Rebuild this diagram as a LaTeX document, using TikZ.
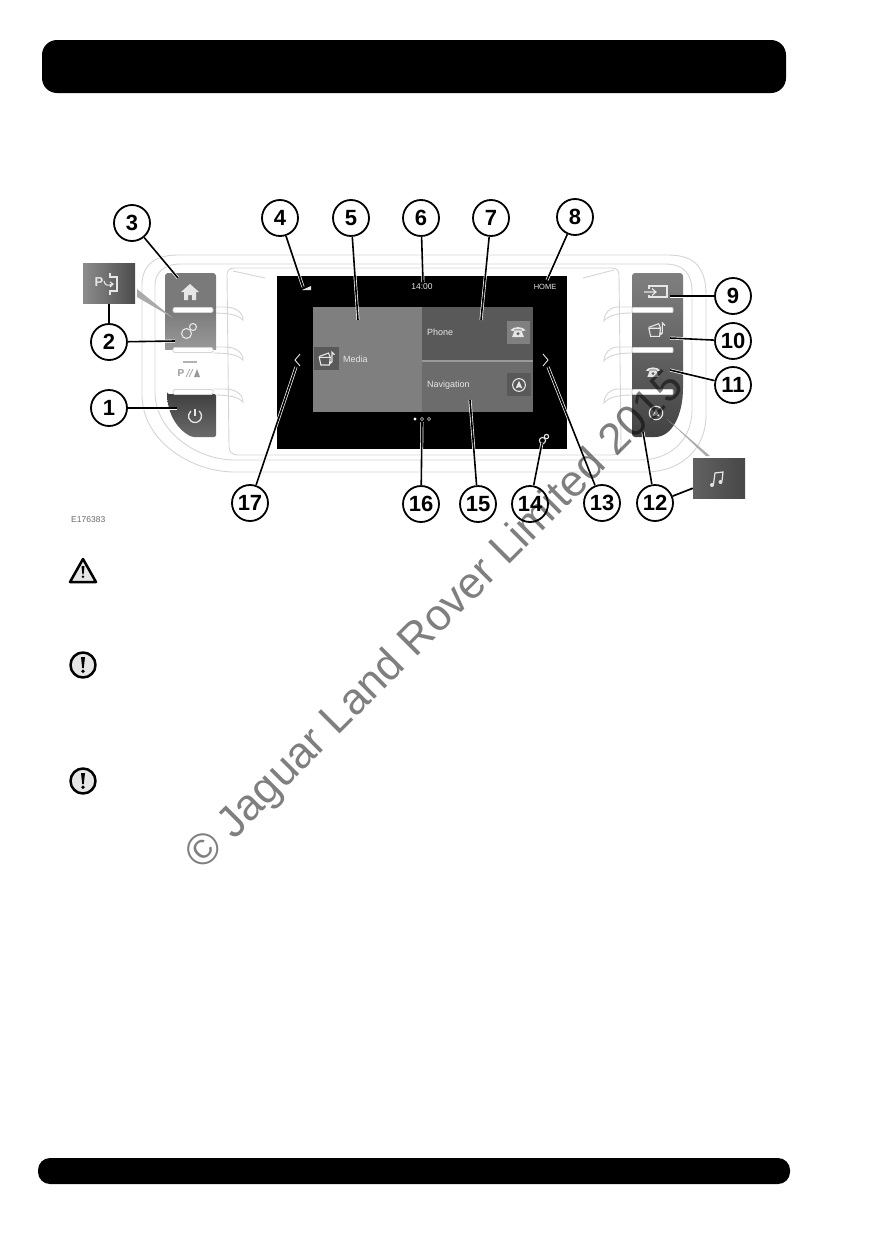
\documentclass[tikz,border=0pt]{standalone}
\usepackage{fontspec}
\usepackage{xcolor}
\usepackage{tikz}
\setmainfont{Liberation Sans}

\definecolor{trimgrey}{HTML}{D4D4D4}
\definecolor{hintgrey}{HTML}{AAAAAA}
\definecolor{tilemedia}{HTML}{7F7F7F}
\definecolor{tilephone}{HTML}{595959}
\definecolor{tilenav}{HTML}{6C6C6C}
\definecolor{iconpale}{HTML}{E6E6E6}

\tikzset{
  callout/.style={circle, draw=black, fill=white, line width=1.8pt, minimum size=36pt, inner sep=0pt, font=\fontsize{22}{22}\selectfont\bfseries},
  leader/.style={draw=white, line width=0.7pt, double=black, double distance=1.6pt},
  plainleader/.style={draw=black, line width=1.7pt},
  trim/.style={draw=trimgrey, line width=0.9pt},
  hint/.style={fill=hintgrey, draw=none},
  screentext/.style={text=iconpale, inner sep=0pt, font=\fontsize{9}{9}\selectfont},
  iconline/.style={draw=iconpale, line width=1.1pt},
  iconfill/.style={fill=iconpale, draw=none},
  thumbbox/.style={minimum width=52pt, minimum height=40pt, inner sep=0pt, draw=none},
  alerticon/.style={draw=black, fill=iconpale, line width=2.5pt, line join=round}
}

\newcommand{\gearicon}[3]{\begin{scope}[shift={(#1,#2)}, scale=#3]
  \draw[iconline] (-2.5,2.5) circle (5);
  \draw[iconline] (4,-4) circle (3.5);
\end{scope}}
\newcommand{\phoneicon}[3]{\begin{scope}[shift={(#1,#2)}, scale=#3]
  \fill[iconfill] (-9,-2) .. controls (-6,-7) and (6,-7) .. (9,-2) -- (5,-1) -- (4,-3) -- (-4,-3) -- (-5,-1) -- cycle;
  \fill[iconfill] (-4,-2) -- (4,-2) -- (7,6) -- (-7,6) -- cycle;
  \fill[black!60] (0,2) circle (2);
\end{scope}}
\newcommand{\navicon}[3]{\begin{scope}[shift={(#1,#2)}, scale=#3]
  \draw[iconline] (0,0) circle (7.5);
  \fill[iconfill] (0,-5) -- (4,4) -- (0,2.5) -- (-4,4) -- cycle;
\end{scope}}
\newcommand{\mediaicon}[3]{\begin{scope}[shift={(#1,#2)}, scale=#3]
  \draw[iconline] (-8,-2) -- (5,-2) -- (4,7) -- (-6,7) -- cycle;
  \draw[iconline] (-8,-3) -- (3,-7) -- (5,-2);
  \draw[iconline] (7,4) -- (7,-8) -- (10,-5);
  \fill[iconfill] (5.5,4) circle (1.8);
\end{scope}}
\newcommand{\alertmark}[3]{\begin{scope}[shift={(#1,#2)}, scale=#3]
  \fill[black] (-2,-8) -- (2,-8) -- (0.8,3) -- (-0.8,3) -- cycle;
  \fill[black] (0,6.3) circle (1.9);
\end{scope}}

\begin{document}
\begin{tikzpicture}[x=1pt, y=-1pt]
  \useasboundingbox (0,0) rectangle (873,1242);

  \fill[black, rounded corners=15pt] (42,40) rectangle (786,93);
  \fill[black, rounded corners=12pt] (38,1158) rectangle (790,1184);

  \draw[trim] (178,255) -- (668,255) .. controls (695,255) and (706,268) .. (706,295) -- (706,415) .. controls (706,450) and (680,472) .. (645,472) -- (235,472) .. controls (190,472) and (142,440) .. (142,395) -- (142,285) .. controls (142,265) and (155,255) .. (178,255) -- cycle;
  \draw[trim] (180,264) -- (665,264) .. controls (685,264) and (692,275) .. (692,292) -- (692,410) .. controls (692,440) and (670,460) .. (640,460) -- (235,460) .. controls (195,460) and (155,430) .. (155,392) -- (155,285) .. controls (155,272) and (165,264) .. (180,264) -- cycle;
  \draw[trim] (234,268) -- (612,268) .. controls (617,268) and (619,271) .. (619,275) -- (621,445) .. controls (621,452) and (618,455) .. (612,455) -- (238,455) .. controls (232,455) and (229,452) .. (229,446) -- (227,275) .. controls (227,271) and (229,268) .. (234,268) -- cycle;
  \draw[trim] (233,271) -- (265,278);
  \draw[trim] (583,278) -- (614,270);

  \foreach \y in {310,350,392} {
    \draw[trim] (213,\y-3) -- (225,\y-3) .. controls (235,\y-3) and (243,\y+2) .. (243,\y+10) .. controls (238,\y+5) and (230,\y+3) .. (213,\y+3);
    \draw[trim] (632,\y-3) -- (618,\y-3) .. controls (610,\y-3) and (604,\y+3) .. (604,\y+11) .. controls (608,\y+6) and (616,\y+3) .. (632,\y+3);
  }

  \fill[black!52, rounded corners=3pt] (165,273) -- (216,273) -- (216,312) -- (165,312) -- cycle;
  \shade[top color=black!52, bottom color=black!40] (165,310) rectangle (216,349);
  \shade[top color=black!75, bottom color=black!58, rounded corners=2pt] (167,394) -- (216,394) -- (216,437) -- (192,437) .. controls (178,430) and (168,415) .. (167,394) -- cycle;
  \shade[top color=black!50, bottom color=black!74, rounded corners=3pt] (632,273) -- (683,273) -- (683,385) .. controls (683,415) and (672,437) .. (652,437) -- (632,437) -- cycle;

  \foreach \y in {310,350,392} {
    \draw[fill=white, draw=trimgrey, line width=0.8pt, rounded corners=1.5pt] (173,\y-2.5) rectangle (213,\y+2.5);
    \draw[fill=white, draw=trimgrey, line width=0.8pt, rounded corners=1pt] (632,\y-2.5) rectangle (673,\y+2.5);
  }

  \fill[iconfill] (181,292) -- (190,284) -- (199,292) -- (196,292) -- (196,300) -- (192,300) -- (192,295) -- (188,295) -- (188,300) -- (184,300) -- (184,292) -- cycle;
  \gearicon{189}{331}{1}
  \draw[black!30, line width=1.2pt] (183,362) -- (197,362);
  \node[inner sep=0pt, text=black!40, font=\fontsize{10}{10}\selectfont\bfseries] (parklabel) at (181,373) {P};
  \draw[black!35, line width=0.7pt] (186,377) -- (190,369) (189,377) -- (193,369);
  \fill[black!40] (194,377) -- (197,369) -- (200,377) -- cycle;
  \draw[iconline, line width=1.3pt] (195,409) -- (195,416);
  \draw[iconline, line width=1.3pt] (195,416) ++(-50:6.5) arc[start angle=-50, end angle=230, radius=6.5];

  \draw[iconline] (649,289) -- (649,286) -- (667,286) -- (667,297) -- (649,297) -- (649,295);
  \draw[iconline] (644,292) -- (656,292) (652,288.5) -- (656,292) -- (652,295.5);
  \mediaicon{656}{330}{0.9}
  \phoneicon{653}{372}{0.8}
  \navicon{656}{413}{0.9}

  \fill[black] (277,276) rectangle (567,449);
  \fill[tilemedia] (313,307) rectangle (422,412);
  \fill[tilephone] (422,307) rectangle (533,360);
  \fill[tilenav] (422,362) rectangle (533,412);
  \fill[black!40] (422,360) rectangle (533,362);
  \fill[black!65] (314,347) rectangle (339,370);
  \fill[black!50] (507,321) rectangle (530,344);
  \fill[black!65] (507,373) rectangle (531,396);
  \mediaicon{326}{359}{0.85}
  \phoneicon{518}{332}{0.85}
  \navicon{519}{385}{0.85}
  \gearicon{544}{439}{0.62}

  \fill[iconfill] (302,290) -- (311,290) -- (311,286) -- cycle;
  \node[screentext, font=\fontsize{8.5}{9}\selectfont] (timelabel) at (422,287) {14:00};
  \node[screentext, font=\fontsize{7.5}{8}\selectfont] (homelabel) at (545,287) {HOME};
  \node[screentext, anchor=west] (medialabel) at (343,359) {Media};
  \node[screentext, anchor=west] (phonelabel) at (427,332) {Phone};
  \node[screentext, anchor=west] (navlabel) at (427,385) {Navigation};
  \draw[iconline, line width=0.9pt] (300,354) -- (295,360) -- (300,366);
  \draw[iconline, line width=0.9pt] (543,354) -- (548,360) -- (543,366);
  \fill[white] (415,419) circle (1.6);
  \draw[black!35!white, line width=0.6pt] (422,419) circle (1.6) (429,419) circle (1.6);

  \node[thumbbox, left color=black!45, right color=black!70] (pbox) at (109,283.5) {};
  \node[text=iconpale, inner sep=0pt, font=\fontsize{13}{13}\selectfont\bfseries] (pboxlabel) at (99,282) {P};
  \draw[iconline] (110,273) -- (110,277) -- (117,277) -- (117,291) -- (110,291) -- (110,295);
  \draw[iconline] (104,281) .. controls (105,286) and (108,286) .. (113,284) (110,282) -- (113,284) -- (110,287);
  \fill[hint] (137,289) -- (137,297) -- (173,318) -- cycle;

  \node[thumbbox, left color=black!62, middle color=black!48, right color=black!72] (musicbox) at (719,478) {};
  \draw[iconline, line width=1.2pt] (713.5,484) -- (715,473) -- (723,472) -- (722,481);
  \fill[iconfill] (712,485) circle (2) (720.5,482) circle (2);
  \fill[hint] (667,419) -- (706,456) -- (710,456) -- cycle;

  \foreach \lbl/\x/\y in {1/109/408, 2/109/342, 3/132/223, 4/280/218, 5/351/218, 6/421/218, 7/491/218, 8/575/217, 9/733/296, 10/733/341, 11/733/385, 12/655/503, 13/602/503, 14/530/504, 15/478/504, 16/421/504, 17/250/503} {
    \node[callout] (c\lbl) at (\x,\y) {\lbl};
  }
  \foreach \lbl/\x/\y in {1/177/408, 2/175/341, 3/178/278, 4/303/287, 5/358/320, 6/423/282, 7/481/320, 8/547/280, 9/670/296, 10/670/338, 11/670/370, 12/643/432, 13/548/367, 14/542/443, 15/470/400, 16/422/422, 17/296/367} {
    \coordinate (e\lbl) at (\x,\y);
    \draw[leader] (c\lbl) -- (e\lbl);
  }
  \draw[plainleader] (c2) -- (pbox);
  \draw[plainleader] (c12) -- (musicbox);

  \node[anchor=west, inner sep=0pt, text=black!60, font=\fontsize{8.5}{9}\selectfont] (figcode) at (71,520) {E176383};

  \draw[alerticon] (83,559) -- (96,582) -- (70,582) -- cycle;
  \alertmark{83}{572}{0.75}
  \foreach \y in {665,781} {
    \draw[alerticon] (83,\y) circle (12.5);
    \alertmark{83}{\y}{1}
  }

  \node[rotate=45, inner sep=0pt, text=black, text opacity=0.5, font=\fontsize{44}{44}\selectfont] (stamp) at (436,622) {© Jaguar Land Rover Limited 2015};
\end{tikzpicture}
\end{document}
